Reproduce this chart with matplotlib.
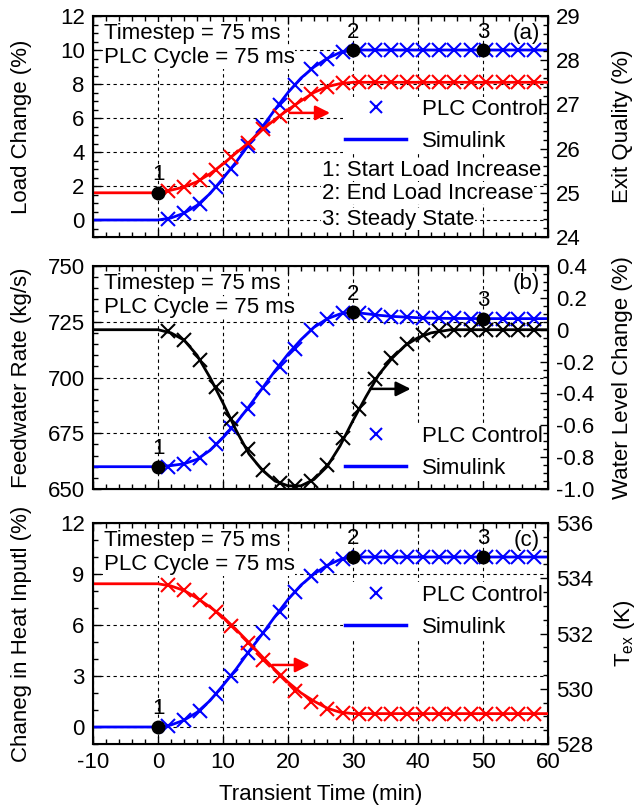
import matplotlib
matplotlib.use('Agg')
import matplotlib.pyplot as plt
from matplotlib.lines import Line2D
from matplotlib.ticker import MultipleLocator

plt.rcParams['font.family'] = ['Liberation Sans', 'DejaVu Sans']
plt.rcParams['mathtext.default'] = 'regular'
plt.rcParams['axes.unicode_minus'] = False

# PLC control samples (markers)
t_plc = [1.5, 4.0, 6.4, 8.9, 11.3, 13.8, 16.2, 18.7, 21.1, 23.6, 26.0, 28.5,
         30.9, 33.4, 35.8, 38.3, 40.7, 43.2, 45.6, 48.1, 50.5, 53.0, 55.4, 57.9]
load_plc = [0.06, 0.40, 0.95, 1.95, 3.00, 4.35, 5.55, 6.75, 7.95, 8.90, 9.50, 9.90,
            10, 10, 10, 10, 10, 10, 10, 10, 10, 10, 10, 10]
quality_plc = [25.05, 25.13, 25.28, 25.52, 25.82, 26.12, 26.44, 26.74, 26.99, 27.24, 27.40, 27.48,
               27.5, 27.5, 27.5, 27.5, 27.5, 27.5, 27.5, 27.5, 27.5, 27.5, 27.5, 27.5]
feed_plc = [660.0, 661.2, 664.0, 670.0, 677.5, 686.0, 695.5, 704.5, 713.0, 721.5, 726.3, 728.8,
            729.0, 728.0, 727.3, 727.0, 726.8, 726.6, 726.5, 726.4, 726.4, 726.4, 726.4, 726.4]
level_plc = [-0.01, -0.065, -0.19, -0.36, -0.56, -0.75, -0.88, -0.96, -0.98, -0.95, -0.85, -0.68,
             -0.50, -0.31, -0.18, -0.09, -0.035, -0.01, 0, 0, 0, 0, 0, 0]
heat_plc = [0.06, 0.40, 0.95, 1.95, 3.00, 4.35, 5.55, 6.75, 7.95, 8.90, 9.50, 9.90,
            10, 10, 10, 10, 10, 10, 10, 10, 10, 10, 10, 10]
tex_plc = [533.76, 533.57, 533.21, 532.79, 532.27, 531.67, 531.04, 530.46, 529.93, 529.53, 529.26, 529.11,
           529.1, 529.1, 529.1, 529.1, 529.1, 529.1, 529.1, 529.1, 529.1, 529.1, 529.1, 529.1]

# Simulink results (lines)
t_sim = [-10, 0, 2, 4, 6, 8, 10, 12, 14, 16, 18, 20, 22, 24, 26, 28, 30,
         32, 34, 36, 38, 40, 42, 45, 50, 55, 60]
load_sim = [0, 0, 0.12, 0.40, 0.86, 1.55, 2.45, 3.40, 4.45, 5.45, 6.50, 7.50, 8.35, 9.00, 9.50, 9.85, 10,
            10, 10, 10, 10, 10, 10, 10, 10, 10, 10]
quality_sim = [25.0, 25.0, 25.06, 25.13, 25.25, 25.43, 25.65, 25.90, 26.14, 26.42, 26.66, 26.88, 27.08,
               27.27, 27.40, 27.47, 27.5, 27.5, 27.5, 27.5, 27.5, 27.5, 27.5, 27.5, 27.5, 27.5, 27.5]
feed_sim = [660, 660, 660.5, 661.3, 663.3, 667.3, 673.0, 679.5, 687.0, 695.0, 703.0, 710.5, 717.0,
            722.5, 726.3, 728.5, 729.3, 728.6, 727.9, 727.4, 727.1, 726.8, 726.6, 726.5, 726.4, 726.4, 726.4]
level_sim = [0, 0, -0.02, -0.065, -0.16, -0.30, -0.46, -0.63, -0.78, -0.88, -0.95, -0.98, -0.98,
             -0.94, -0.86, -0.73, -0.57, -0.42, -0.28, -0.18, -0.10, -0.05, -0.02, 0, 0, 0, 0]
heat_sim = [0, 0, 0.12, 0.40, 0.86, 1.55, 2.45, 3.40, 4.45, 5.45, 6.50, 7.50, 8.35, 9.00, 9.50, 9.85, 10,
            10, 10, 10, 10, 10, 10, 10, 10, 10, 10]
tex_sim = [533.8, 533.8, 533.72, 533.56, 533.28, 532.96, 532.6, 532.15, 531.67, 531.17, 530.69, 530.24,
           529.85, 529.55, 529.3, 529.15, 529.1, 529.1, 529.1, 529.1, 529.1, 529.1, 529.1, 529.1, 529.1,
           529.1, 529.1]

# event points: (time, value) for labels 1, 2, 3
events_a = [(0, 25.0), (30, 10), (50, 10)]
events_b = [(0, 660), (30, 729.3), (50, 726.3)]
events_c = [(0, 0), (30, 10), (50, 10)]

FS = 16
W, H = 644, 809
fig = plt.figure(figsize=(W / 100, H / 100), dpi=100, facecolor='white')


def make_axes(top, bottom):
    left, right = 93, 548
    return fig.add_axes([left / W, 1 - bottom / H, (right - left) / W, (bottom - top) / H])


def style(ax, ax2, lmaj, lmin, rmaj, rmin):
    ax.set_xlim(-10, 60)
    ax.xaxis.set_major_locator(MultipleLocator(10))
    ax.xaxis.set_minor_locator(MultipleLocator(2))
    ax.yaxis.set_major_locator(MultipleLocator(lmaj))
    ax.yaxis.set_minor_locator(MultipleLocator(lmin))
    ax2.yaxis.set_major_locator(MultipleLocator(rmaj))
    ax2.yaxis.set_minor_locator(MultipleLocator(rmin))
    ax.tick_params(which='both', direction='in', top=True, right=False, labelsize=FS, colors='black')
    ax.tick_params(which='major', length=6, width=1, pad=6)
    ax.tick_params(which='minor', length=3.5, width=1)
    ax2.tick_params(which='both', direction='in', right=True, labelsize=FS)
    ax2.tick_params(which='major', length=6, width=1, pad=6)
    ax2.tick_params(which='minor', length=3.5, width=1)
    ax.grid(True, which='major', color='black', linestyle=(0, (3, 3)), linewidth=0.8)
    ax.set_axisbelow(True)
    for sp in ax.spines.values():
        sp.set_linewidth(1.5)
    ax.yaxis.set_label_coords(-0.135, 0.5)
    ax2.yaxis.set_label_coords(1.14, 0.5)


def header(ax, tag):
    bb = dict(facecolor='white', edgecolor='none', pad=0.5)
    ax.text(0.024, 0.921, 'Timestep = 75 ms', transform=ax.transAxes, fontsize=FS,
            va='center', ha='left', bbox=bb, zorder=5)
    ax.text(0.024, 0.812, 'PLC Cycle = 75 ms', transform=ax.transAxes, fontsize=FS,
            va='center', ha='left', bbox=bb, zorder=5)
    ax.text(0.982, 0.921, tag, transform=ax.transAxes, fontsize=FS, va='center', ha='right')


def events(ax, pts, first=1):
    for i, (x, y) in enumerate(pts):
        ax.plot(x, y, 'o', color='black', ms=9, zorder=10, clip_on=False)
        ax.annotate(str(i + first), (x, y), xytext=(0, 18), textcoords='offset pixels',
                    ha='center', va='center', fontsize=FS)


def legend(ax, yc):
    handles = [Line2D([], [], color='blue', marker='x', ls='none', ms=9, mew=1.5),
               Line2D([], [], color='blue', lw=2.5)]
    lg = ax.legend(handles, ['PLC Control', 'Simulink'], loc='center left',
                   bbox_to_anchor=(0.549, yc), fontsize=FS, frameon=True, facecolor='white',
                   edgecolor='none', framealpha=1, borderpad=0.1, borderaxespad=0,
                   handlelength=2.75, handletextpad=0.7, labelspacing=0.5, fancybox=False)
    lg.set_zorder(6)


def curves(ax, tsim, ysim, tplc, yplc, color):
    ax.plot(tsim, ysim, color=color, lw=2)
    ax.plot(tplc, yplc, 'x', color=color, ms=10, mew=1.5)


# ---- (a)
ax = make_axes(16, 237)
ax2 = ax.twinx()
curves(ax, t_sim, load_sim, t_plc, load_plc, 'blue')
curves(ax2, t_sim, quality_sim, t_plc, quality_plc, 'red')
ax.set_ylim(-1, 12)
ax2.set_ylim(24, 29)
style(ax, ax2, 2, 0.5, 1, 0.2)
ax.tick_params(labelbottom=False)
ax.set_ylabel('Load Change (%)', fontsize=FS)
ax2.set_ylabel('Exit Quality (%)', fontsize=FS)
header(ax, '(a)')
events(ax2, events_a[:1], first=1)
events(ax, events_a[1:], first=2)
ax.annotate('', xy=(26.9, 6.3), xytext=(19.8, 6.3),
            arrowprops=dict(arrowstyle='-|>', color='red', lw=1.8, mutation_scale=22))
legend(ax, 0.505)
notes = ['1: Start Load Increase', '2: End Load Increase', '3: Steady State']
for yy, s in zip([0.303, 0.198, 0.081], notes):
    ax.text(0.503, yy, s, transform=ax.transAxes, fontsize=FS, va='center', ha='left',
            bbox=dict(facecolor='white', edgecolor='none', pad=0.3), zorder=5)

# ---- (b)
ax = make_axes(266, 489)
ax2 = ax.twinx()
curves(ax, t_sim, feed_sim, t_plc, feed_plc, 'blue')
curves(ax2, t_sim, level_sim, t_plc, level_plc, 'black')
ax.set_ylim(650, 750)
ax2.set_ylim(-1.0, 0.4)
style(ax, ax2, 25, 5, 0.2, 0.05)
ax2.yaxis.set_major_formatter(lambda v, p: '0' if abs(v) < 1e-9 else f'{v:.1f}')
ax.tick_params(labelbottom=False)
ax.set_ylabel('Feedwater Rate (kg/s)', fontsize=FS)
ax2.set_ylabel('Water Level Change (%)', fontsize=FS)
header(ax, '(b)')
events(ax, events_b)
ax.annotate('', xy=(39.3, 694.9), xytext=(32.2, 694.9),
            arrowprops=dict(arrowstyle='-|>', color='black', lw=1.8, mutation_scale=22))
legend(ax, 0.164)

# ---- (c)
ax = make_axes(523, 744)
ax2 = ax.twinx()
curves(ax, t_sim, heat_sim, t_plc, heat_plc, 'blue')
curves(ax2, t_sim, tex_sim, t_plc, tex_plc, 'red')
ax.set_ylim(-1, 12)
ax2.set_ylim(528, 536)
style(ax, ax2, 3, 1, 2, 0.5)
ax.set_ylabel('Chaneg in Heat Inputl (%)', fontsize=FS)
ax2.set_ylabel(r'$T_{ex}$ (K)', fontsize=FS)
ax.set_xlabel('Transient Time (min)', fontsize=FS, labelpad=8)
header(ax, '(c)')
events(ax, events_c)
ax.annotate('', xy=(23.8, 3.65), xytext=(17.2, 3.65),
            arrowprops=dict(arrowstyle='-|>', color='red', lw=1.8, mutation_scale=22))
legend(ax, 0.601)

fig.savefig('out.png', dpi=100)
